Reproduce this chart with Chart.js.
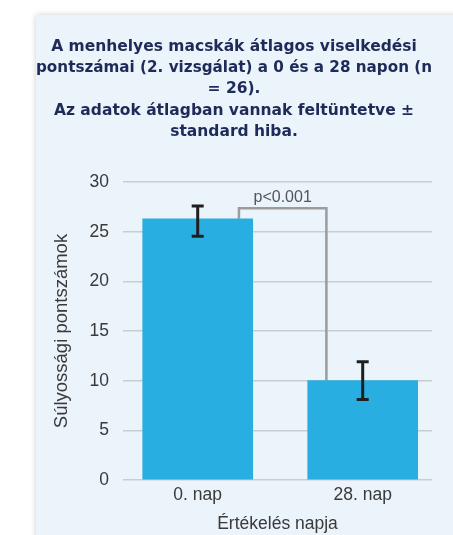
<!DOCTYPE html>
<html>
<head>
<meta charset="utf-8">
<script src="https://cdn.jsdelivr.net/npm/chart.js@4/dist/chart.umd.min.js"></script>
<style>
  html, body { margin: 0; padding: 0; background: #ffffff; width: 453px; height: 535px; overflow: hidden; }
  #panel { position: absolute; left: 36px; top: 15px; width: 440px; height: 540px; background: #EBF3FB; box-shadow: 0 0 6px rgba(0,0,0,0.20); }
  #c { position: absolute; left: 0; top: 0; }
</style>
</head>
<body>
<div id="panel"><canvas id="c" width="417" height="520"></canvas></div>
<script>
// ---- data ----
const categories = ["0. nap", "28. nap"];
const means = [26.3, 10.0];
const errUpper = [1.3, 1.9];
const errLower = [1.75, 1.9];
const yTicks = [0, 5, 10, 15, 20, 25, 30];
const titleLines = [
  "A menhelyes macskák átlagos viselkedési",
  "pontszámai (2. vizsgálat) a 0 és a 28 napon (n",
  "= 26).",
  "Az adatok átlagban vannak feltüntetve ±",
  "standard hiba."
];
const yTitle = "Súlyossági pontszámok";
const xTitle = "Értékelés napja";
const pLabel = "p<0.001";
const bracketX = [0.25, 0.78];
const bracketTop = 27.35;

const FONT = "'Liberation Sans', Arial, sans-serif";
const TFONT = "'DejaVu Sans', 'Liberation Sans', sans-serif";
const TEXT = "#3a3a3a";

const errorBars = {
  id: 'errorBars',
  afterDatasetsDraw(chart) {
    const ctx = chart.ctx;
    const meta = chart.getDatasetMeta(1);
    const ys = chart.scales.y;
    ctx.save();
    ctx.strokeStyle = '#1f1f1f';
    ctx.lineWidth = 3;
    meta.data.forEach((bar, i) => {
      const x = bar.x;
      const yt = ys.getPixelForValue(means[i] + errUpper[i]);
      const yb = ys.getPixelForValue(means[i] - errLower[i]);
      ctx.beginPath();
      ctx.moveTo(x, yt); ctx.lineTo(x, yb);
      ctx.moveTo(x - 6, yt); ctx.lineTo(x + 6, yt);
      ctx.moveTo(x - 6, yb); ctx.lineTo(x + 6, yb);
      ctx.stroke();
    });
    const xs = chart.scales.x;
    const px = xs.getPixelForValue((bracketX[0] + bracketX[1]) / 2);
    const py = ys.getPixelForValue(bracketTop);
    ctx.fillStyle = '#555555';
    ctx.font = "16px " + FONT;
    ctx.textAlign = 'center';
    ctx.textBaseline = 'bottom';
    ctx.fillText(pLabel, px, py - 3);
    ctx.restore();
  }
};

new Chart(document.getElementById('c'), {
  data: {
    datasets: [
      {
        type: 'line',
        data: [
          {x: bracketX[0], y: means[0]},
          {x: bracketX[0], y: bracketTop},
          {x: bracketX[1], y: bracketTop},
          {x: bracketX[1], y: means[1]}
        ],
        borderColor: '#9c9c9c',
        borderWidth: 2.5,
        pointRadius: 0,
        tension: 0,
        fill: false,
        order: 2
      },
      {
        type: 'bar',
        data: categories.map((c, i) => ({x: i, y: means[i]})),
        backgroundColor: '#29AEE1',
        borderWidth: 0,
        barThickness: 110,
        order: 1
      }
    ]
  },
  options: {
    responsive: false,
    animation: false,
    events: [],
    layout: { padding: { left: 0, right: 21, top: 0, bottom: 0 } },
    plugins: {
      legend: { display: false },
      tooltip: { enabled: false },
      title: {
        display: true,
        text: titleLines,
        color: '#1E2B58',
        font: { family: TFONT, size: 15.5, weight: 'bold', lineHeight: 1.371 },
        padding: { top: 21.3, bottom: 39.5 }
      }
    },
    scales: {
      x: {
        type: 'linear',
        offset: false,
        min: -0.4527,
        max: 1.42,
        afterBuildTicks(scale) { scale.ticks = categories.map((c, i) => ({value: i})); },
        afterFit(scale) { scale.height = 55; },
        grid: { display: false, offset: false, drawTicks: false },
        border: { display: false },
        ticks: {
          callback: (v) => categories[v],
          color: TEXT,
          font: { family: FONT, size: 17.5 },
          padding: 5,
          maxRotation: 0,
          autoSkip: false
        },
        title: {
          display: true,
          text: xTitle,
          color: TEXT,
          font: { family: FONT, size: 17.5 },
          padding: { top: 4, bottom: 0 }
        }
      },
      y: {
        min: 0,
        max: 30,
        afterBuildTicks(scale) { scale.ticks = yTicks.map(v => ({value: v})); },
        afterFit(scale) { scale.width = 87; },
        grid: { color: '#C9CDD2', lineWidth: 1.5, drawTicks: false },
        border: { display: false },
        ticks: {
          color: TEXT,
          font: { family: FONT, size: 17.5 },
          padding: 14
        },
        title: {
          display: true,
          text: yTitle,
          color: TEXT,
          font: { family: FONT, size: 18.5 },
          padding: { top: 15, bottom: 0 }
        }
      }
    }
  },
  plugins: [errorBars]
});
</script>
</body>
</html>
